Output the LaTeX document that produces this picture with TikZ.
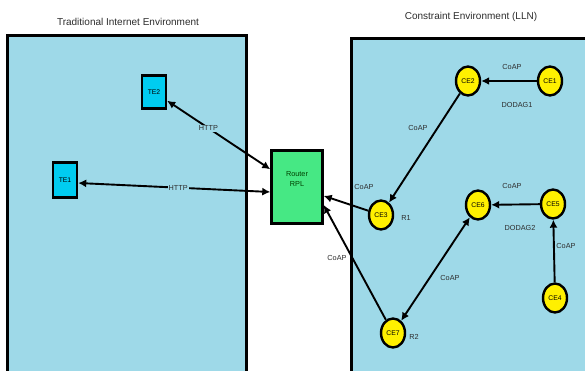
\documentclass[tikz,border=0pt]{standalone}
\usepackage{fontspec}
\setmainfont{Liberation Sans}
\usetikzlibrary{shapes.geometric,arrows.meta}
\definecolor{envbg}{RGB}{158,217,232}
\definecolor{tecol}{RGB}{0,204,240}
\definecolor{rtcol}{RGB}{70,232,132}
\definecolor{cecol}{RGB}{255,240,0}
\definecolor{txtcol}{RGB}{45,45,45}
\begin{document}
\begin{tikzpicture}[x=1pt,y=-1pt,
  envfill/.style={fill=envbg},
  envline/.style={draw=black,line width=3pt},
  title/.style={font=\fontsize{10}{12}\selectfont,text=txtcol},
  lbl/.style={font=\fontsize{7.3}{8.5}\selectfont,text=txtcol,inner sep=1pt},
  tebox/.style={draw=black,line width=2.4pt,fill=tecol,minimum width=24pt,inner sep=0pt,font=\fontsize{6.8}{7}\selectfont},
  rtbox/.style={draw=black,line width=2.4pt,fill=rtcol,minimum width=51pt,minimum height=73pt,inner sep=0pt},
  cenode/.style={ellipse,draw=black,line width=2.4pt,fill=cecol,minimum width=24pt,minimum height=29pt,inner sep=0pt,font=\fontsize{6.8}{7}\selectfont},
  arr/.style={line width=1.9pt,-{Latex[length=8pt,width=8pt]}},
  barr/.style={line width=1.9pt,{Latex[length=8pt,width=8pt]}-{Latex[length=8pt,width=8pt]}}
]
\useasboundingbox (0,0) rectangle (585,371);
\fill[white] (0,0) rectangle (585,371);
% environments
\fill[envfill] (7,36) rectangle (246,371);
\draw[envline] (7,372) -- (7,36) -- (246,36) -- (246,372);
\fill[envfill] (351,39) rectangle (585,371);
\draw[envline] (351,372) -- (351,39) -- (586,39);
\node[title] (t1) at (128,22) {Traditional Internet Environment};
\node[title] (t2) at (471,17) {Constraint Environment (LLN)};
% nodes
\node[tebox,minimum height=33pt] (te2) at (154,92) {TE2};
\node[tebox,minimum height=35pt] (te1) at (65,180) {TE1};
\node[rtbox] (rt) at (297,187) {};
\node[lbl,align=center,text=black!75!green,font=\fontsize{7.3}{10}\selectfont] (rtl) at (297,179) {Router\\RPL};
\node[cenode] (ce2) at (468,81) {CE2};
\node[cenode] (ce1) at (550,81) {CE1};
\node[cenode] (ce3) at (381,215) {CE3};
\node[cenode] (ce6) at (478,205) {CE6};
\node[cenode] (ce5) at (553,204) {CE5};
\node[cenode] (ce4) at (555,298) {CE4};
\node[cenode] (ce7) at (393,333) {CE7};
% connectors
\draw[barr] (te2) -- (rt) node[lbl,pos=0.4,fill=envbg] (h1) {HTTP};
\draw[barr] ([yshift=-3pt]te1.east) -- ([yshift=-5pt]rt.west) node[lbl,pos=0.52,fill=envbg] (h2) {HTTP};
\draw[arr] (ce1) -- (ce2);
\draw[arr] (ce2) -- (ce3);
\draw[arr] (ce3) -- (rt);
\draw[arr] (ce7) -- ([yshift=-18pt]rt.east);
\draw[arr] (ce5) -- (ce6);
\draw[arr] (ce4) -- (ce5);
\draw[barr] (ce6) -- (ce7);
% labels
\node[lbl] (c1) at (512,67) {CoAP};
\node[lbl] (d1) at (517,105) {DODAG1};
\node[lbl] (c2) at (418,128) {CoAP};
\node[lbl] (c3) at (364,187) {CoAP};
\node[lbl] (r1) at (406,218) {R1};
\node[lbl] (c4) at (337,258) {CoAP};
\node[lbl] (c5) at (512,186) {CoAP};
\node[lbl] (d2) at (520,228) {DODAG2};
\node[lbl] (c6) at (566,246) {CoAP};
\node[lbl] (c7) at (450,278) {CoAP};
\node[lbl] (r2) at (414,337) {R2};
\end{tikzpicture}
\end{document}
